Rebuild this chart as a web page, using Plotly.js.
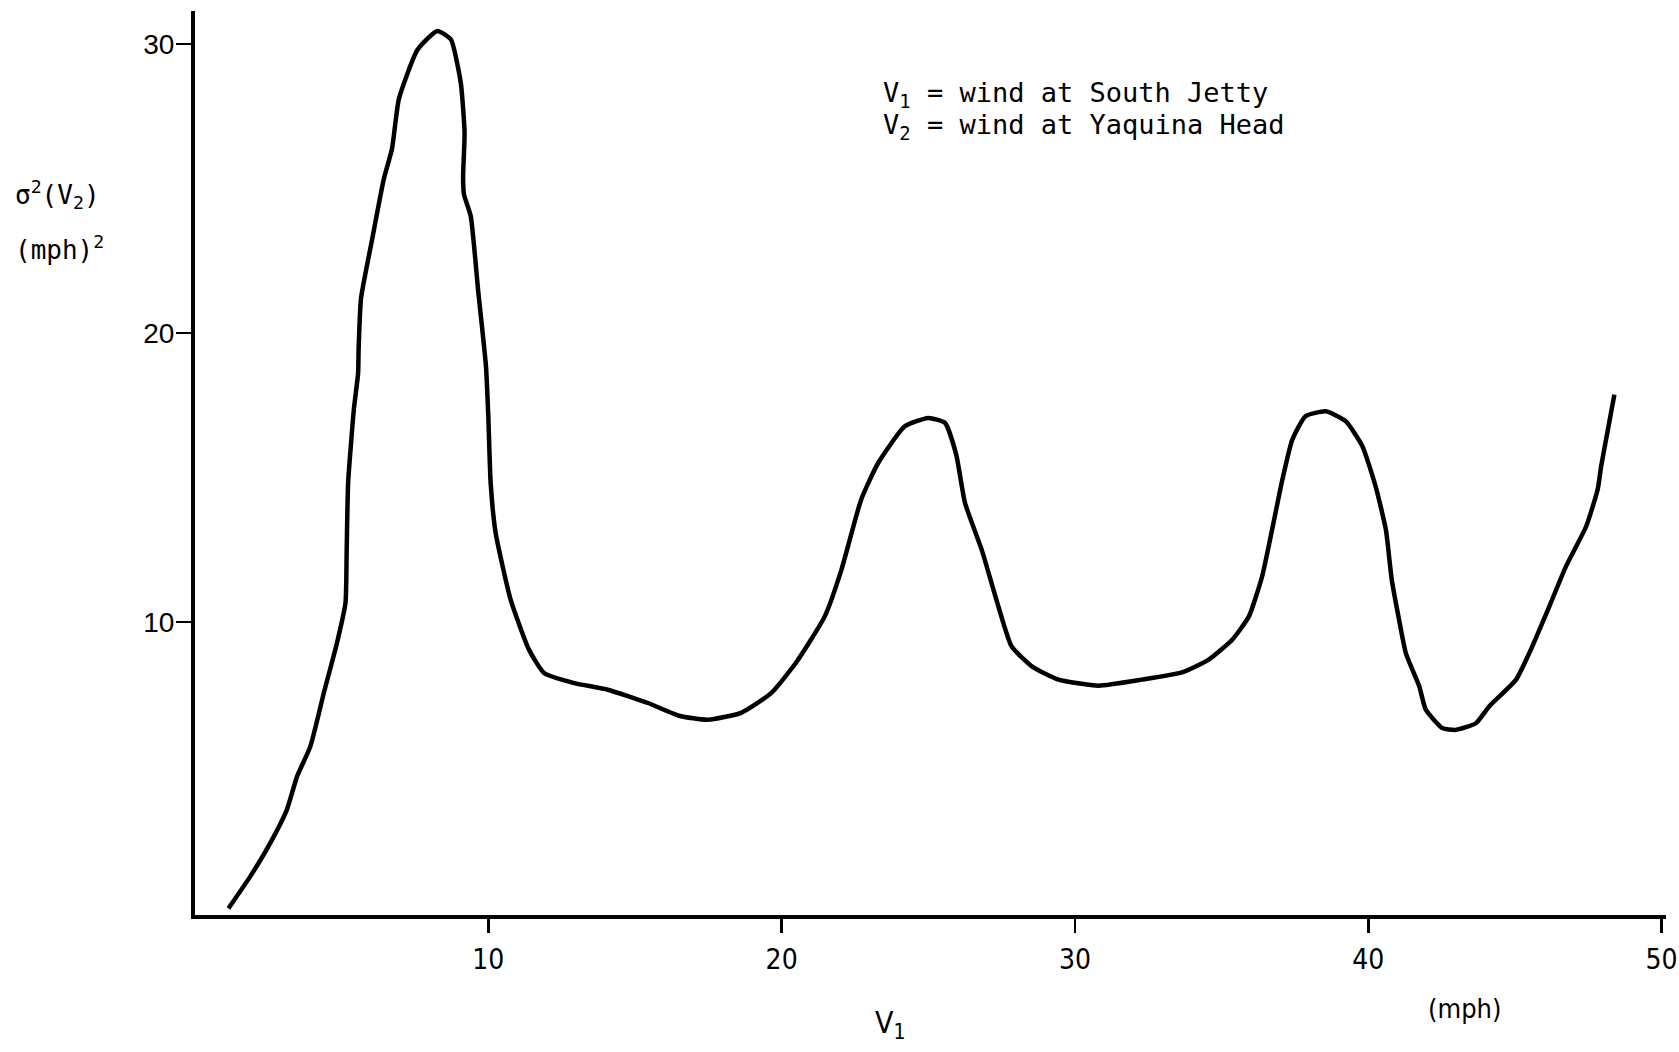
<!DOCTYPE html>
<html>
<head>
<meta charset="utf-8">
<script src="https://cdn.plot.ly/plotly-3.0.1.min.js"></script>
<style>
  html, body { margin: 0; padding: 0; background: #fff; }
  #chart { width: 1679px; height: 1052px; }
</style>
</head>
<body>
<div id="chart"></div>
<script>
// Wind speed at South Jetty, V1 (mph)
const v1 = [1.14, 1.88, 2.56, 3.13, 3.48, 3.93, 4.39, 4.84, 5.13, 5.17, 5.22, 5.42, 5.56, 5.58, 5.66, 6.04, 6.43, 6.72, 6.95, 7.58, 8.26, 8.72, 9.06, 9.19, 9.14, 9.17, 9.40, 9.66, 9.92, 10.0, 10.08, 10.25, 10.76, 11.39, 11.9, 12.93, 14.07, 15.44, 16.5, 17.48, 18.62, 19.64, 20.5, 21.47, 22.04, 22.71, 23.29, 24.2, 25.0, 25.57, 25.95, 26.25, 26.82, 27.39, 27.84, 28.53, 29.44, 30.8, 32.28, 33.65, 34.56, 35.36, 35.93, 36.38, 36.72, 37.07, 37.41, 37.86, 38.55, 39.23, 39.8, 40.25, 40.6, 40.8, 41.05, 41.28, 41.74, 41.96, 42.53, 42.98, 43.67, 44.12, 45.04, 45.49, 46.17, 46.74, 47.43, 47.82, 47.94, 48.17, 48.39];
// Variance of wind at Yaquina Head, sigma^2(V2) (mph^2)
const variance = [0.08, 1.18, 2.33, 3.49, 4.65, 5.68, 7.53, 9.27, 10.65, 12.4, 14.8, 17.4, 18.6, 19.5, 21.2, 23.25, 25.3, 26.4, 28.1, 29.8, 30.46, 30.17, 28.67, 26.94, 25.4, 24.8, 24.05, 21.4, 18.85, 17.1, 14.8, 13.08, 10.77, 9.03, 8.23, 7.88, 7.65, 7.19, 6.75, 6.61, 6.85, 7.53, 8.6, 10.19, 11.81, 14.23, 15.5, 16.77, 17.06, 16.89, 15.8, 14.12, 12.5, 10.53, 9.15, 8.46, 8.0, 7.79, 8.0, 8.25, 8.69, 9.38, 10.19, 11.57, 13.19, 14.92, 16.31, 17.12, 17.29, 16.95, 16.08, 14.69, 13.19, 11.46, 10.07, 8.92, 7.76, 6.96, 6.32, 6.26, 6.49, 7.07, 8.0, 8.92, 10.53, 11.92, 13.31, 14.58, 15.39, 16.66, 17.87];

const xTickVals = [10, 20, 30, 40, 50];
const xTickText = ['10', '20', '30', '40', '50'];
const yTickVals = [10, 20, 30];
const yTickText = ['10', '20', '30'];

const trace = {
  x: v1,
  y: variance,
  type: 'scatter',
  mode: 'lines',
  line: { color: '#000', width: 4.5, shape: 'spline', smoothing: 0.5 },
  hoverinfo: 'skip'
};

const mono = 'DejaVu Sans Mono, Liberation Mono, monospace';
const narrow = 'Liberation Sans Narrow, DejaVu Sans Condensed, Liberation Sans, sans-serif';

const layout = {
  width: 1679,
  height: 1052,
  margin: { l: 195, r: 13, t: 11, b: 137 },
  paper_bgcolor: '#fff',
  plot_bgcolor: '#fff',
  showlegend: false,
  xaxis: {
    range: [0, 50.15],
    showgrid: false,
    zeroline: false,
    showline: true,
    linecolor: '#000',
    linewidth: 4,
    ticks: 'outside',
    ticklen: 14,
    tickwidth: 2.5,
    tickcolor: '#000',
    tickvals: xTickVals,
    ticktext: xTickText,
    ticklabelstandoff: 2,
    tickfont: { family: narrow, size: 28, color: '#000' }
  },
  yaxis: {
    range: [-0.15, 31.15],
    showgrid: false,
    zeroline: false,
    showline: true,
    linecolor: '#000',
    linewidth: 4,
    ticks: 'outside',
    ticklen: 15,
    tickwidth: 2.5,
    tickcolor: '#000',
    tickvals: yTickVals,
    ticktext: yTickText,
    ticklabelstandoff: -4,
    tickfont: { family: 'Liberation Sans, Arial, sans-serif', size: 28, color: '#000' }
  },
  annotations: [
    { xref: 'paper', yref: 'paper', x: 0.4664, y: 0.908, xanchor: 'left', yanchor: 'middle',
      text: 'V<sub>1</sub> = wind at South Jetty', showarrow: false,
      font: { family: mono, size: 27, color: '#000' } },
    { xref: 'paper', yref: 'paper', x: 0.4664, y: 0.872, xanchor: 'left', yanchor: 'middle',
      text: 'V<sub>2</sub> = wind at Yaquina Head', showarrow: false,
      font: { family: mono, size: 27, color: '#000' } },
    { xref: 'paper', yref: 'paper', x: -0.124, y: 0.797, xanchor: 'left', yanchor: 'middle',
      text: 'σ<sup>2</sup>(V<sub>2</sub>)', showarrow: false,
      font: { family: mono, size: 26, color: '#000' } },
    { xref: 'paper', yref: 'paper', x: -0.124, y: 0.738, xanchor: 'left', yanchor: 'middle',
      text: '(mph)<sup>2</sup>', showarrow: false,
      font: { family: mono, size: 26, color: '#000' } },
    { xref: 'paper', yref: 'paper', x: 0.473, y: -0.121, xanchor: 'center', yanchor: 'middle',
      text: 'V<sub>1</sub>', showarrow: false,
      font: { family: narrow, size: 30, color: '#000' } },
    { xref: 'paper', yref: 'paper', x: 0.863, y: -0.103, xanchor: 'center', yanchor: 'middle',
      text: '(mph)', showarrow: false,
      font: { family: narrow, size: 27, color: '#000' } }
  ]
};

Plotly.newPlot('chart', [trace], layout, { displayModeBar: false, staticPlot: true });
</script>
</body>
</html>
